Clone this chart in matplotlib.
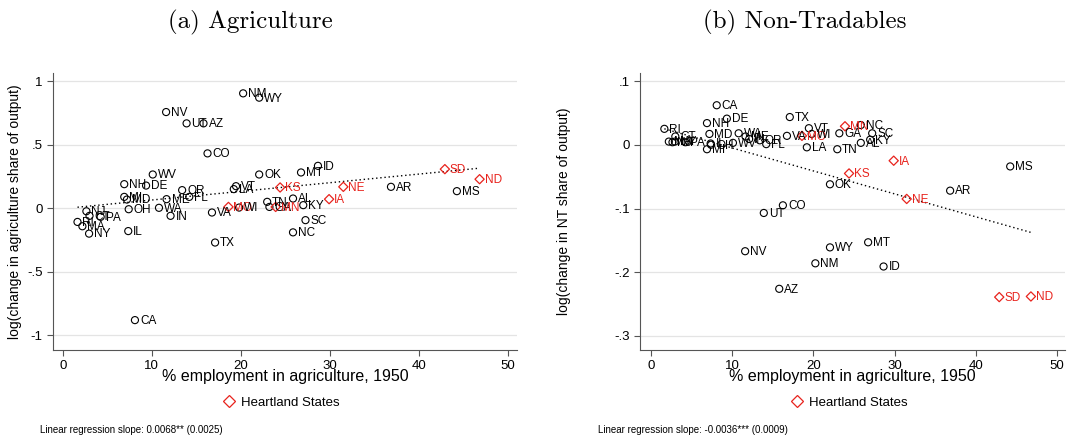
import numpy as np
import matplotlib
matplotlib.use("Agg")
import matplotlib.pyplot as plt
from matplotlib.lines import Line2D

# ---- data -----------------------------------------------------------------
states = ["AL", "AZ", "AR", "CA", "CO", "CT", "DE", "FL", "GA", "ID", "IL", "IN",
          "IA", "KS", "KY", "LA", "ME", "MD", "MA", "MI", "MN", "MS", "MO", "MT",
          "NE", "NV", "NH", "NJ", "NM", "NY", "NC", "ND", "OH", "OK", "OR", "PA",
          "RI", "SC", "SD", "TN", "TX", "UT", "VT", "VA", "WA", "WV", "WI", "WY"]

emp_1950 = [25.85, 15.8, 36.85, 8.1, 16.25, 3.0, 9.35, 14.2, 23.2, 28.65, 7.35, 12.1,
            29.9, 24.4, 27.0, 19.2, 11.65, 7.2, 2.2, 6.9, 23.9, 44.25, 18.6, 26.75,
            31.5, 11.6, 6.9, 2.65, 20.25, 2.95, 25.85, 46.8, 7.4, 22.05, 13.4, 4.25,
            1.65, 27.25, 42.9, 22.95, 17.1, 13.9, 19.45, 16.75, 10.8, 10.1, 19.8, 22.05]

agr_change = [0.076, 0.667, 0.168, -0.88, 0.431, -0.06, 0.178, 0.089, 0.01, 0.333, -0.18, -0.06,
              0.071, 0.163, 0.024, 0.15, 0.071, 0.068, -0.142, 0.089, 0.01, 0.134, 0.01, 0.281,
              0.168, 0.756, 0.189, -0.024, 0.903, -0.2, -0.19, 0.228, -0.008, 0.265, 0.142, -0.068,
              -0.108, -0.094, 0.307, 0.05, -0.27, 0.667, 0.173, -0.034, 0.003, 0.265, 0.005, 0.869]

nt_change = [0.003, -0.226, -0.072, 0.062, -0.095, 0.013, 0.041, 0.001, 0.018, -0.191, 0.002, 0.009,
             -0.025, -0.045, 0.008, -0.004, 0.013, 0.017, 0.005, -0.007, 0.029, -0.034, 0.014, -0.153,
             -0.085, -0.167, 0.034, 0.004, -0.186, 0.005, 0.031, -0.238, 0.0, -0.062, 0.007, 0.004,
             0.025, 0.018, -0.239, -0.007, 0.0435, -0.107, 0.026, 0.014, 0.018, 0.003, 0.017, -0.161]

heartland = ["IA", "KS", "MN", "MO", "NE", "ND", "SD"]

x_ticks = [0, 10, 20, 30, 40, 50]
agr_ticks = [-1, -0.5, 0, 0.5, 1]
agr_ticklabels = ["-1", "-.5", "0", ".5", "1"]
nt_ticks = [-0.3, -0.2, -0.1, 0, 0.1]
nt_ticklabels = ["-.3", "-.2", "-.1", "0", ".1"]

agr_slope, agr_se, agr_stars = 0.0068, 0.0025, "**"
nt_slope, nt_se, nt_stars = -0.0036, 0.0009, "***"

# ---- style ----------------------------------------------------------------
plt.rcParams["font.family"] = ["Liberation Sans", "DejaVu Sans"]
RED = "#e8231d"
W, H = 1070, 438


def px_rect(left, top, right, bottom):
    return [left / W, 1 - bottom / H, (right - left) / W, (bottom - top) / H]


def draw_panel(ax, yvals, slope, se, stars, yticks, yticklabels, ylim, xlim,
               ylabel, title, title_x, ylabel_x, note_x):
    x = np.asarray(emp_1950)
    y = np.asarray(yvals)
    is_h = np.isin(states, heartland)

    ax.set_xlim(*xlim)
    ax.set_ylim(*ylim)
    ax.set_yticks(yticks)
    ax.set_yticklabels(yticklabels)
    ax.set_xticks(x_ticks)
    ax.set_xticklabels([str(t) for t in x_ticks])
    ax.yaxis.grid(True, color="#e4e4e4", linewidth=0.9)
    ax.set_axisbelow(True)
    for side in ("top", "right"):
        ax.spines[side].set_visible(False)
    for side in ("left", "bottom"):
        ax.spines[side].set_color("#555555")
        ax.spines[side].set_linewidth(0.8)
    ax.tick_params(axis="both", direction="out", length=4.5, width=0.8,
                   color="#555555", labelsize=9.5, pad=3)

    # fitted line through the sample means with the reported slope
    intercept = y.mean() - slope * x.mean()
    xs = np.array([x.min(), x.max()])
    ax.plot(xs, intercept + slope * xs, linestyle=(0, (1, 2)), color="black",
            linewidth=1.0, zorder=2)

    ax.scatter(x[~is_h], y[~is_h], s=26, facecolors="none", edgecolors="black",
               linewidths=0.8, zorder=3)
    ax.scatter(x[is_h], y[is_h], s=22, marker="D", facecolors="none",
               edgecolors=RED, linewidths=0.9, zorder=3)

    for st, xi, yi, h in zip(states, x, y, is_h):
        ax.annotate(st, (xi, yi), xytext=(3.6, -0.6), textcoords="offset points",
                    ha="left", va="center", fontsize=8.5,
                    color=RED if h else "black", zorder=4)

    ax.set_xlabel("% employment in agriculture, 1950", fontsize=11.5)
    ax.xaxis.set_label_coords(0.5, -0.07)
    ax.set_ylabel(ylabel, fontsize=10)
    bbox = ax.get_position()
    ax.yaxis.set_label_coords((ylabel_x / W - bbox.x0) / bbox.width, 0.5)

    handle = Line2D([], [], marker="D", linestyle="none", markersize=6.2,
                    markerfacecolor="none", markeredgecolor=RED,
                    markeredgewidth=0.9)
    ax.legend([handle], ["Heartland States"], loc="center",
              bbox_to_anchor=(0.49, -0.19), frameon=False, fontsize=9.5,
              handletextpad=0.3, handlelength=1.2)

    ax.figure.text(title_x / W, 1 - 22 / H, title, family="cmr10",
                   fontsize=18, ha="center", va="center")
    ax.figure.text(note_x / W, 1 - 430 / H,
                   f"Linear regression slope: {slope:.4f}{stars} ({se:.4f})",
                   fontsize=7, ha="left", va="center")


fig = plt.figure(figsize=(W / 100, H / 100), dpi=100)

ax1 = fig.add_axes(px_rect(53, 73, 517, 350))
draw_panel(ax1, agr_change, agr_slope, agr_se, agr_stars, agr_ticks,
           agr_ticklabels, (-1.115, 1.063), (-1.1, 51.0),
           "log(change in agriculture share of output)",
           "(a) Agriculture", 250, 22, 40)

ax2 = fig.add_axes(px_rect(640, 73, 1065, 350))
draw_panel(ax2, nt_change, nt_slope, nt_se, nt_stars, nt_ticks,
           nt_ticklabels, (-0.322, 0.1126), (-1.35, 51.0),
           "log(change in NT share of output)",
           "(b) Non-Tradables", 805, 571, 598)

fig.savefig("out.png", dpi=100)
